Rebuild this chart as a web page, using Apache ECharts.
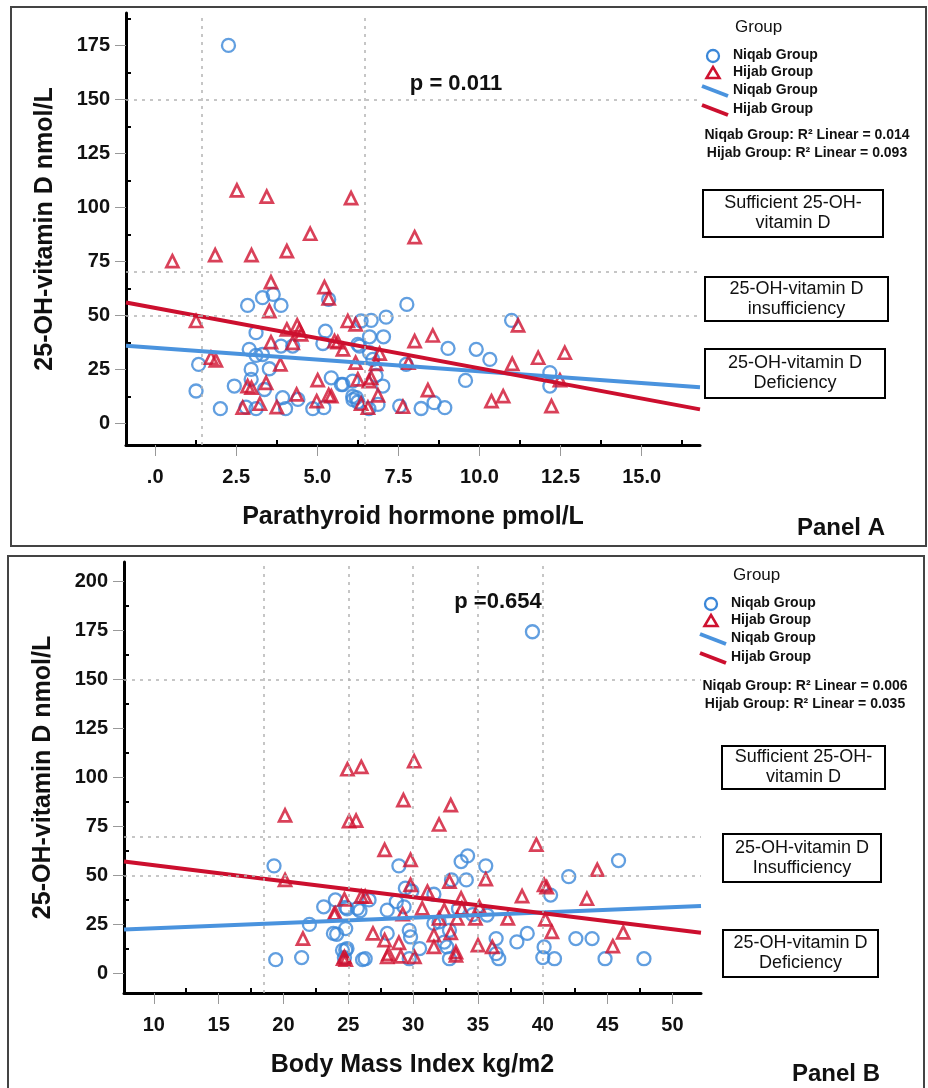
<!DOCTYPE html>
<html><head><meta charset="utf-8">
<script src="https://cdn.jsdelivr.net/npm/echarts@6/dist/echarts.min.js"></script>
<style>html,body{margin:0;padding:0;background:#fff}#c{width:928px;height:1088px}</style>
</head><body><div id="c"></div><script>
// ---------- tick labels / reference values ----------
const pthTicks = [0, 2.5, 5, 7.5, 10, 12.5, 15];
const pthTickLabels = ['.0', '2.5', '5.0', '7.5', '10.0', '12.5', '15.0'];
const pthMinor = [1.25, 3.75, 6.25, 8.75, 11.25, 13.75, 16.25];
const bmiTicks = [10, 15, 20, 25, 30, 35, 40, 45, 50];
const bmiMinor = [12.5, 17.5, 22.5, 27.5, 32.5, 37.5, 42.5, 47.5];
const vitTicksA = [0, 25, 50, 75, 100, 125, 150, 175];
const vitMinorA = [12.5, 37.5, 62.5, 87.5, 112.5, 137.5, 162.5, 187.5];
const vitTicksB = [0, 25, 50, 75, 100, 125, 150, 175, 200];
const vitMinorB = [12.5, 37.5, 62.5, 87.5, 112.5, 137.5, 162.5, 187.5];
const refY = [50, 70, 150];
const refXA = [1.45, 6.45];
const refXB = [18.5, 25, 30, 35, 40];

// ---------- Panel A : PTH vs 25-OH-vitamin D ----------
const aNiqab = [
  [2.26,175],
  [2.85,54.6],[3.31,58.2],[3.64,59.7],[3.88,54.6],[5.35,57.4],[7.76,55.1],
  [3.11,42],[3.88,35.8],[4.24,35.8],[5.25,42.7],[5.17,37],
  [6.35,47.4],[6.66,47.7],[7.12,49.2],[6.61,40.1],[7.04,40.1],[6.3,35.8],[6.25,36.6],[6.61,32.7],
  [9.03,34.7],[9.9,34.3],[10.32,29.6],[10.99,47.7],
  [12.17,23.5],[12.17,17.3],[9.57,19.9],
  [8.93,7.3],[8.6,9.6],[8.2,6.9],[7.54,8],
  [7.74,27.3],[6.71,29.6],[7.02,17.3],[6.87,8.8],[6.59,6.8],[6.2,11.9],[6.09,12.5],[5.79,18],[6.81,22.2],[5.43,21.1],[5.2,7.3],
  [1.34,27.3],[1.26,15],[2.9,34.3],[2.96,25],[3.11,31.5],[3.31,31.9],[3.52,25.3],[2.96,20.4],[3.37,15.7],[2.44,17.3],
  [2.01,6.8],[2.8,7.5],[3.11,6.8],[4.02,6.8],[3.93,11.9],[4.4,11.1],[4.86,6.8],[5.74,18],[6.09,19.6],[6.25,9.9],[6.1,11]
];
const aHijab = [
  [2.52,107.9],[3.44,105],[6.04,104.3],[4.78,87.8],[8.0,86.2],
  [0.53,75.1],[1.85,77.9],[2.97,77.9],[4.06,79.8],
  [3.57,65.4],[5.22,63.1],[5.35,57.9],[3.52,52],[1.26,47.4],
  [3.57,37.6],[4.06,43.5],[4.38,45.4],[4.45,43.2],[4.24,37.3],[4.5,41.2],
  [5.63,37.6],[5.79,34.3],[5.94,47.4],[6.18,45.8],
  [1.72,30.4],[1.87,29.2],[3.86,27.3],[2.85,17.3],[2.97,16.5],[3.42,18.8],
  [2.7,7.3],[3.23,9.1],[3.75,7.5],[4.36,13.4],[5.01,20],[4.98,10.3],[5.35,13.1],
  [6.25,20.4],[6.59,19.6],[6.66,21.1],[6.87,13],[6.56,7.3],[6.35,9.1],[5.43,12.6],[6.18,28.1],[6.81,27.6],[5.53,38.1],[6.92,32.3],
  [8.0,38.1],[8.56,40.7],[11.19,45.4],[11.01,27.6],[11.81,30.4],[12.63,32.7],[12.48,20],[12.22,8],
  [10.37,10.3],[10.73,12.6],[8.41,15.4],[7.64,7.7],[7.81,28.1]
];
const aNiqabFit = [[-0.9, 35.9], [16.8, 16.7]];
const aHijabFit = [[-0.9, 56.0], [16.8, 6.5]];

// ---------- Panel B : BMI vs 25-OH-vitamin D ----------
const bNiqab = [
  [39.2,174.4],
  [19.27,54.9],[19.4,7],[21.4,8.1],[22.0,25],[23.1,34],[23.85,20.4],[24.0,37.5],[24.8,33.7],[24.8,22.9],[24.55,11.8],[24.9,12.7],[24.7,8],[26.1,7],[25.7,33.2],
  [28.9,54.9],[33.7,57.1],[34.2,60],[35.6,54.9],[45.84,57.6],[42.0,49.4],[34.1,47.7],[32.96,47.7],[29.4,43.5],[29.9,42],[40.6,40],[31.6,40.4],
  [35.7,29.8],[32.0,26.3],[26.6,37.5],[24.9,33],[25.9,32],[28.0,32.3],[28.7,36.6],[29.3,34],
  [31.6,25.5],[32.8,22],[36.4,17.8],[38.0,16.1],[38.8,20.4],[42.55,17.8],[43.8,17.8],[44.8,7.5],[47.8,7.5],[40.1,13.5],[40.0,8.1],[40.9,7.5],
  [36.4,10.1],[36.6,7.5],[32.8,7.5],[32.6,13.5],[32.4,16],[29.7,7.5],[30.5,12.7],[29.8,18.6],[29.7,22],[28.0,20.4],[26.3,7.5],[24.8,12],[24.1,20],[33.5,33],[34.6,30]
];
const bHijab = [
  [24.93,104.2],[26.0,105.4],[30.08,108.3],[20.12,80.7],[25.06,77.7],[25.6,78],[29.25,88.5],[32.9,85.9],[32.0,76],
  [39.5,65.7],[27.8,63.1],[29.8,58],[20.12,47.7],[21.5,17.8],[23.9,30.3],[24.7,37.8],[24.6,7.5],[24.8,7],[26.0,39.2],
  [44.2,52.9],[32.8,46.9],[35.6,48.1],[29.8,45.2],[40.1,45.2],[40.3,44],[38.4,39.5],[43.4,38.1],[31.1,41.7],[33.7,38.3],
  [30.7,33.2],[32.4,32.3],[33.76,33.2],[35.1,34],[37.3,28.1],[40.2,27.6],[32.0,28.1],[33.4,28.1],[34.8,28.1],[26.3,39.2],[24.0,30.6],
  [31.6,19.5],[32.9,20.7],[46.2,20.9],[45.4,13.9],[40.7,21.2],[36.1,13.5],[35.0,14.4],[33.3,10.9],[33.3,9.2],[31.6,13.5],[30.1,8.4],[29.05,8.7],[28.0,8.4],[28.1,10],
  [26.9,20.4],[27.8,17],[28.9,15.6],[24.7,8.4],[29.2,30.2]
];
const bNiqabFit = [[7.7, 22.4], [52.2, 34.4]];
const bHijabFit = [[7.7, 57.1], [52.2, 20.7]];

// ---------- text content ----------
const groupNames = ['Niqab Group', 'Hijab Group'];
const r2A = ['Niqab Group: R\u00B2 Linear = 0.014', 'Hijab Group: R\u00B2 Linear = 0.093'];
const r2B = ['Niqab Group: R\u00B2 Linear = 0.006', 'Hijab Group: R\u00B2 Linear = 0.035'];
const boxTextsA = ['Sufficient 25-OH-\nvitamin D', '25-OH-vitamin D\ninsufficiency', '25-OH-vitamin D\nDeficiency'];
const boxTextsB = ['Sufficient 25-OH-\nvitamin D', '25-OH-vitamin D\nInsufficiency', '25-OH-vitamin D\nDeficiency'];

const BLUE = '#3b87d8', RED = '#cf1230', BLUE_LINE = '#4a93de', RED_LINE = '#cc0f2e';
const FONT = 'Liberation Sans, Arial, sans-serif';

function xAxisPair(grid, min, max, ticks, minor, labels, name) {
  return [{
    type: 'value', gridIndex: grid, min: min, max: max,
    name: name, nameLocation: 'middle', nameGap: 60,
    nameTextStyle: {fontFamily: FONT, fontSize: 25, fontWeight: 'bold', color: '#111'},
    axisLine: {show: true, onZero: false, lineStyle: {color: '#000', width: 3}},
    axisTick: {show: true, length: 11, lineStyle: {color: '#999', width: 1}, customValues: ticks},
    axisLabel: {fontFamily: FONT, fontSize: 20, fontWeight: 'bold', color: '#111', margin: 22, customValues: ticks,
      formatter: function (v) { const i = ticks.indexOf(v); return labels ? (i >= 0 ? labels[i] : '') : String(v); }},
    splitLine: {show: false}
  }, {
    type: 'value', gridIndex: grid, min: min, max: max, position: 'bottom',
    axisLine: {show: false, onZero: false}, axisLabel: {show: false}, splitLine: {show: false},
    axisTick: {show: true, inside: true, length: 5, lineStyle: {color: '#000', width: 2}, customValues: minor}
  }];
}
function yAxisPair(grid, min, max, ticks, minor) {
  return [{
    type: 'value', gridIndex: grid, min: min, max: max,
    name: '25-OH-vitamin D nmol/L', nameLocation: 'middle', nameGap: 68, nameRotate: 90,
    nameTextStyle: {fontFamily: FONT, fontSize: 25, fontWeight: 'bold', color: '#111'},
    axisLine: {show: true, onZero: false, lineStyle: {color: '#000', width: 3}},
    axisTick: {show: true, length: 11, lineStyle: {color: '#999', width: 1}, customValues: ticks},
    axisLabel: {fontFamily: FONT, fontSize: 20, fontWeight: 'bold', color: '#111', margin: 16, customValues: ticks},
    splitLine: {show: false}
  }, {
    type: 'value', gridIndex: grid, min: min, max: max, position: 'left',
    axisLine: {show: false, onZero: false}, axisLabel: {show: false}, splitLine: {show: false},
    axisTick: {show: true, inside: true, length: 5, lineStyle: {color: '#000', width: 2}, customValues: minor}
  }];
}
function refMarks(xs) {
  const d = [];
  refY.forEach(v => d.push({yAxis: v}));
  xs.forEach(v => d.push({xAxis: v}));
  return {silent: true, symbol: 'none', label: {show: false}, animation: false,
    lineStyle: {type: [3, 5], color: '#b4b4b4', width: 1.5}, data: d};
}
function scatter(name, data, xi, yi, sym, marks) {
  const s = {
    name: name, type: 'scatter', xAxisIndex: xi, yAxisIndex: yi, data: data,
    symbol: sym, symbolSize: sym === 'circle' ? 13 : 12,
    itemStyle: {color: 'rgba(255,255,255,0)', borderColor: sym === 'circle' ? BLUE : RED, borderWidth: sym === 'circle' ? 2.3 : 2.7},
    emphasis: {disabled: true}, z: 3
  };
  if (marks) s.markLine = marks;
  return s;
}
function fit(data, xi, yi, color) {
  return {type: 'line', xAxisIndex: xi, yAxisIndex: yi, data: data, symbol: 'none',
    lineStyle: {color: color, width: 4}, z: 4, silent: true};
}

// ---------- graphic (legend, annotations, frames) ----------
function legendBlock(x0, y0, r2lines, r2y, r2cx) {
  const g = [];
  g.push({type: 'text', left: x0 + 2, top: y0 - 11, style: {text: 'Group', fontFamily: FONT, fontSize: 17, fill: '#111'}});
  const rows = [y0 + 26, y0 + 43, y0 + 61, y0 + 80];
  g.push({type: 'circle', shape: {cx: x0 - 20, cy: rows[0], r: 6}, style: {fill: 'none', stroke: BLUE, lineWidth: 2.3}});
  g.push({type: 'polygon', shape: {points: [[x0 - 20, rows[1] - 6], [x0 - 13.5, rows[1] + 5], [x0 - 26.5, rows[1] + 5]]}, style: {fill: 'none', stroke: RED, lineWidth: 2.5}});
  g.push({type: 'line', shape: {x1: x0 - 31, y1: rows[2] - 5, x2: x0 - 5, y2: rows[2] + 5}, style: {stroke: BLUE_LINE, lineWidth: 4}});
  g.push({type: 'line', shape: {x1: x0 - 31, y1: rows[3] - 5, x2: x0 - 5, y2: rows[3] + 5}, style: {stroke: RED_LINE, lineWidth: 4}});
  [0, 1, 0, 1].forEach((k, i) => {
    g.push({type: 'text', left: x0, top: rows[i] - 8, style: {text: groupNames[k], fontFamily: FONT, fontSize: 14, fontWeight: 'bold', fill: '#111'}});
  });
  r2lines.forEach((t, i) => {
    g.push({type: 'text', x: r2cx, y: r2y + i * 18, style: {text: t, fontFamily: FONT, fontSize: 14, fontWeight: 'bold', fill: '#111', align: 'center', verticalAlign: 'middle'}});
  });
  return g;
}
function boxes(rects, texts) {
  const g = [];
  rects.forEach((r, i) => {
    g.push({type: 'rect', shape: {x: r[0], y: r[1], width: r[2], height: r[3]}, style: {fill: '#fff', stroke: '#000', lineWidth: 2}});
    g.push({type: 'text', x: r[0] + r[2] / 2, y: r[1] + r[3] / 2, style: {text: texts[i], fontFamily: FONT, fontSize: 18, lineHeight: 20, fill: '#111', align: 'center', verticalAlign: 'middle'}});
  });
  return g;
}
const graphics = [].concat(
  [{type: 'rect', shape: {x: 11, y: 7, width: 915, height: 539}, style: {fill: 'none', stroke: '#444', lineWidth: 2}},
   {type: 'rect', shape: {x: 8, y: 556, width: 916, height: 545}, style: {fill: 'none', stroke: '#444', lineWidth: 2}},
   {type: 'text', x: 456, y: 84, style: {text: 'p = 0.011', fontFamily: FONT, fontSize: 22, fontWeight: 'bold', fill: '#111', align: 'center', verticalAlign: 'middle'}},
   {type: 'text', x: 498, y: 602, style: {text: 'p =0.654', fontFamily: FONT, fontSize: 22, fontWeight: 'bold', fill: '#111', align: 'center', verticalAlign: 'middle'}},
   {type: 'text', x: 841, y: 528, style: {text: 'Panel A', fontFamily: FONT, fontSize: 24, fontWeight: 'bold', fill: '#111', align: 'center', verticalAlign: 'middle'}},
   {type: 'text', x: 836, y: 1074, style: {text: 'Panel B', fontFamily: FONT, fontSize: 24, fontWeight: 'bold', fill: '#111', align: 'center', verticalAlign: 'middle'}}],
  legendBlock(733, 30, r2A, 135, 807),
  legendBlock(731, 578, r2B, 686, 805),
  boxes([[703, 190, 180, 47], [705, 277, 183, 44], [705, 349, 180, 49]], boxTextsA),
  boxes([[722, 746, 163, 43], [723, 834, 158, 48], [723, 930, 155, 47]], boxTextsB)
);

const xa = xAxisPair(0, -0.9, 16.8, pthTicks, pthMinor, pthTickLabels, 'Parathyroid hormone pmol/L');
const xb = xAxisPair(1, 7.7, 52.2, bmiTicks, bmiMinor, null, 'Body Mass Index kg/m2');
const ya = yAxisPair(0, -10, 190, vitTicksA, vitMinorA);
const yb = yAxisPair(1, -10, 210, vitTicksB, vitMinorB);

const option = {
  animation: false,
  backgroundColor: '#fff',
  textStyle: {fontFamily: FONT},
  grid: [
    {left: 126, top: 13, width: 574, height: 432},
    {left: 124, top: 562, width: 577, height: 431}
  ],
  xAxis: [xa[0], xa[1], xb[0], xb[1]],
  yAxis: [ya[0], ya[1], yb[0], yb[1]],
  series: [
    scatter(groupNames[0], aNiqab, 0, 0, 'circle', refMarks(refXA)),
    scatter(groupNames[1], aHijab, 0, 0, 'triangle'),
    fit(aNiqabFit, 0, 0, BLUE_LINE),
    fit(aHijabFit, 0, 0, RED_LINE),
    scatter(groupNames[0], bNiqab, 2, 2, 'circle', refMarks(refXB)),
    scatter(groupNames[1], bHijab, 2, 2, 'triangle'),
    fit(bNiqabFit, 2, 2, BLUE_LINE),
    fit(bHijabFit, 2, 2, RED_LINE)
  ],
  graphic: graphics
};
const chart = echarts.init(document.getElementById('c'), null, {renderer: 'canvas'});
chart.setOption(option);
</script></body></html>
